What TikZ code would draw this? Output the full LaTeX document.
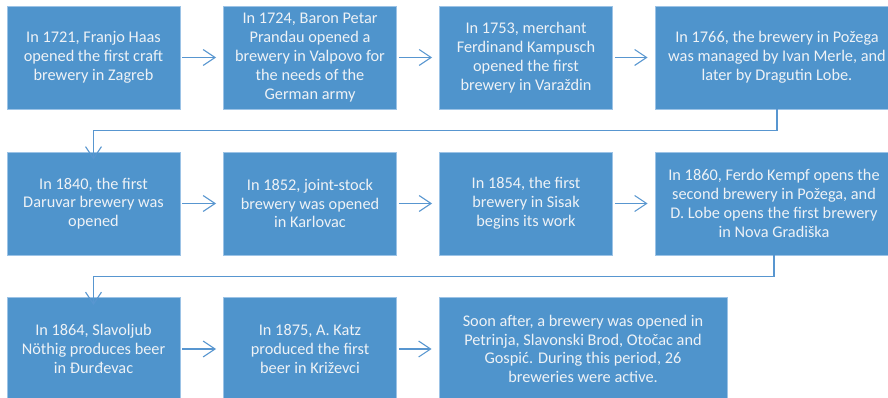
\documentclass[tikz,border=0pt]{standalone}
\usepackage{fontspec}
\setmainfont{Carlito}
\usetikzlibrary{arrows.meta}
\definecolor{boxblue}{HTML}{4F94CC}
\definecolor{edgeblue}{HTML}{9CC3E6}
\definecolor{linkblue}{HTML}{5896D0}
\definecolor{textwhite}{HTML}{EEF2F6}
\tikzset{
  event/.style={rectangle, fill=boxblue, draw=edgeblue, line width=0.8pt,
    minimum width=#1, minimum height=103pt, inner sep=0pt,
    text=textwhite, align=center,
    font=\fontsize{16.3}{18.8}\selectfont},
  event/.default=173pt,
  link/.style={draw=linkblue, line width=1.1pt,
    -{Straight Barb[length=12pt,width=16pt]}},
}
\begin{document}
\begin{tikzpicture}[x=1pt,y=-1pt]
\useasboundingbox (0,0) rectangle (888,398);
\clip (0,0) rectangle (888,398);

% first row
\node[event] (a1) at (93.5,57.5) {In 1721, Franjo Haas\\opened the first craft\\brewery in Zagreb};
\node[event] (a2) at (310,57.5) {In 1724, Baron Petar\\Prandau opened a\\brewery in Valpovo for\\the needs of the\\German army};
\node[event] (a3) at (526,57.5) {In 1753, merchant\\Ferdinand Kampusch\\opened the first\\brewery in Varaždin};
\node[event=244pt] (a4) at (777,57.5) {In 1766, the brewery in Požega\\was managed by Ivan Merle, and\\later by Dragutin Lobe.};

% second row
\node[event] (b1) at (93.5,203.5) {In 1840, the first\\Daruvar brewery was\\opened};
\node[event] (b2) at (310,203.5) {In 1852, joint-stock\\brewery was opened\\in Karlovac};
\node[event] (b3) at (526,203.5) {In 1854, the first\\brewery in Sisak\\begins its work};
\node[event=238pt] (b4) at (774,203.5) {In 1860, Ferdo Kempf opens the\\second brewery in Požega, and\\D. Lobe opens the first brewery\\in Nova Gradiška};

% third row
\node[event] (c1) at (93.5,349) {In 1864, Slavoljub\\Nöthig produces beer\\in Đurđevac};
\node[event] (c2) at (310,349) {In 1875, A. Katz\\produced the first\\beer in Križevci};
\node[event=288pt] (c3) at (583,349) {Soon after, a brewery was opened in\\Petrinja, Slavonski Brod, Otočac and\\Gospić. During this period, 26\\breweries were active.};

% links within rows
\draw[link] ([xshift=2pt]a1.east) -- ([xshift=-7pt]a2.west);
\draw[link] ([xshift=2pt]a2.east) -- ([xshift=-7pt]a3.west);
\draw[link] ([xshift=2pt]a3.east) -- ([xshift=-7pt]a4.west);
\draw[link] ([xshift=2pt]b1.east) -- ([xshift=-7pt]b2.west);
\draw[link] ([xshift=2pt]b2.east) -- ([xshift=-7pt]b3.west);
\draw[link] ([xshift=2pt]b3.east) -- ([xshift=-7pt]b4.west);
\draw[link] ([xshift=2pt]c1.east) -- ([xshift=-7pt]c2.west);
\draw[link] ([xshift=2pt]c2.east) -- ([xshift=-7pt]c3.west);

% links wrapping to the next row
\draw[link] (a4.south) -- ++(0,21.5) -| ([yshift=-8pt]b1.north);
\draw[link] (b4.south) -- ++(0,21.5) -| ([yshift=-8pt]c1.north);
\end{tikzpicture}
\end{document}
